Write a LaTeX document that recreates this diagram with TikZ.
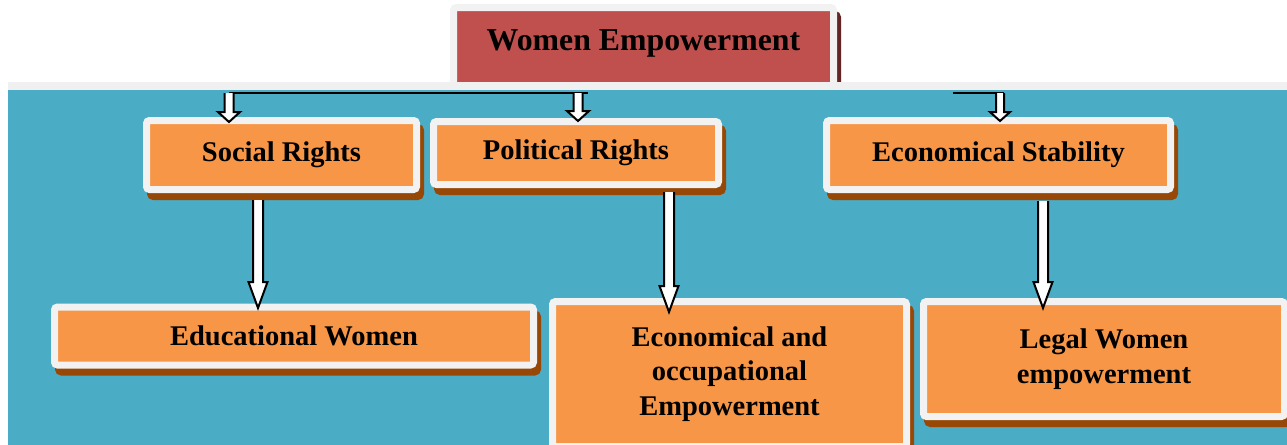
\documentclass[tikz,border=0pt]{standalone}
\usepackage{fontspec}
\setmainfont{Liberation Serif}
\usepackage{tikz}
\usetikzlibrary{calc,shadows}
\definecolor{panelteal}{RGB}{75,172,198}
\definecolor{bandgray}{RGB}{240,240,240}
\definecolor{cardframe}{RGB}{242,242,242}
\definecolor{cardorange}{RGB}{247,150,70}
\definecolor{cardshadow}{RGB}{152,72,6}
\definecolor{titlered}{RGB}{192,80,77}
\definecolor{titleshadow}{RGB}{99,37,35}
% hollow block arrow: from #1 down to tip #2, shaft half width #3, head half width #4, head length #5
\newcommand{\hollowarrow}[5]{
    \filldraw[hollow] ($(#1)+(-#3,0)$)--($(#2)+(-#3,-#5)$)--($(#2)+(-#4,-#5)$)--(#2)
        --($(#2)+(#4,-#5)$)--($(#2)+(#3,-#5)$)--($(#1)+(#3,0)$);
}
\tikzset{
    card/.style={draw=cardframe, fill=cardorange, line width=3.5pt, rounded corners=1.5pt,
        inner sep=0pt, align=center, font=\bfseries\fontsize{14.25}{17.25}\selectfont,
        drop shadow={shadow xshift=2pt, shadow yshift=-3.5pt, fill=#1, draw=#1, line width=3.5pt, opacity=1}},
    card/.default=cardshadow,
    hollow/.style={fill=white, draw=black, line width=1pt, line join=miter},
    bus/.style={draw=black, line width=1pt}
}
\begin{document}
\begin{tikzpicture}[x=0.5pt,y=-0.5pt]
\clip (0,0) rectangle (1287,445);
\fill[white] (0,0) rectangle (1287,445);
\node[card=titleshadow, fill=titlered, minimum width=190pt, minimum height=39pt,
    font=\bfseries\fontsize{15.9}{18}\selectfont, text depth=6pt] (title) at (643.5,46.5) {Women Empowerment};
\fill[bandgray] (8,82) rectangle (1287,90);
\fill[panelteal] (8,90) rectangle (1287,445);

\node[card, minimum width=135pt, minimum height=34.5pt] (social) at (281.5,155) {Social Rights};
\node[card, minimum width=142.5pt, minimum height=31.5pt] (political) at (576,153) {Political Rights};
\node[card, minimum width=172pt, minimum height=34.5pt] (stability) at (998.5,155) {Economical Stability};

\node[card, minimum width=239.5pt, minimum height=29pt] (educational) at (294,336) {Educational Women};
\node[card, minimum width=177pt, minimum height=72.5pt] (occupational) at (729.5,374) {Economical and\\occupational\\Empowerment};
\node[card, minimum width=180.5pt, minimum height=57.5pt] (legal) at (1104,359) {Legal Women\\empowerment};

\coordinate (busA) at (229,93);
\coordinate (busB) at (578,93);
\coordinate (busC) at (1000,93);
\coordinate (socialtip) at (229,122);
\coordinate (politicaltip) at (578,121);
\coordinate (stabilitytip) at (1000,121);
\draw[bus] (busA)--(588,93);
\draw[bus] (953,93)--(1004,93);
\hollowarrow{busA}{socialtip}{4.5}{11}{10}
\hollowarrow{busB}{politicaltip}{4.5}{11}{10}
\hollowarrow{busC}{stabilitytip}{4}{10}{9}

\coordinate (socialout) at (258,200);
\coordinate (politicalout) at (669,192);
\coordinate (stabilityout) at (1043,201);
\coordinate (educationaltip) at (258,308);
\coordinate (occupationaltip) at (669,312);
\coordinate (legaltip) at (1043,308);
\hollowarrow{socialout}{educationaltip}{5}{9.5}{26}
\hollowarrow{politicalout}{occupationaltip}{5}{9.5}{26}
\hollowarrow{stabilityout}{legaltip}{5}{9.5}{26}
\end{tikzpicture}
\end{document}
